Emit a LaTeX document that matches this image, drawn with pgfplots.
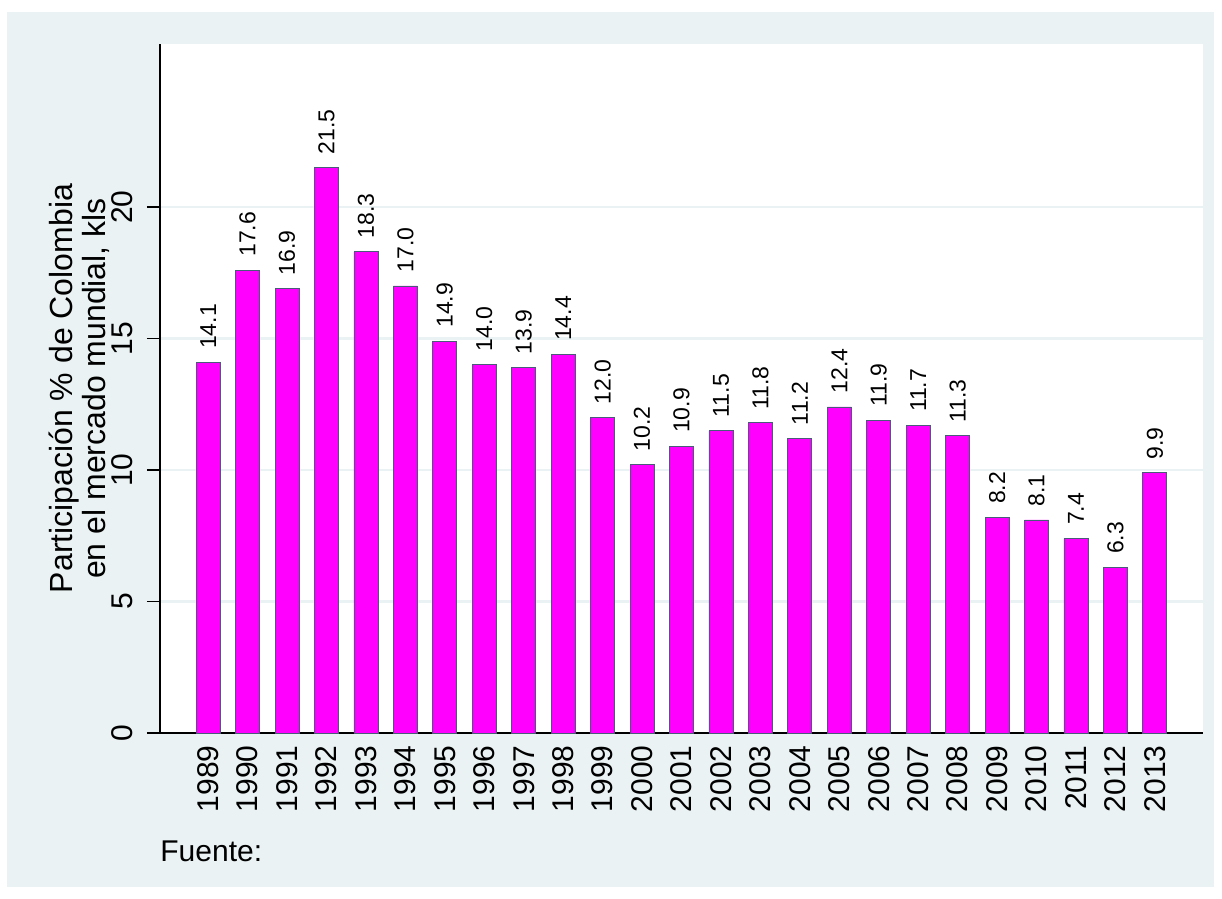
\documentclass[border=0pt]{standalone}
\usepackage{fontspec}
\setmainfont{Liberation Sans}
\usepackage{pgfplots}
\usepackage{pgfplotstable}
\pgfplotsset{compat=1.18}
\definecolor{bg}{HTML}{EAF2F3}
\definecolor{barc}{HTML}{FF00FF}
\definecolor{edgec}{HTML}{4A5A7A}
\pgfplotstableread{
x y
0 14.1
1 17.6
2 16.9
3 21.5
4 18.3
5 17.0
6 14.9
7 14.0
8 13.9
9 14.4
10 12.0
11 10.2
12 10.9
13 11.5
14 11.8
15 11.2
16 12.4
17 11.9
18 11.7
19 11.3
20 8.2
21 8.1
22 7.4
23 6.3
24 9.9
}\datatable
\begin{document}
\begin{tikzpicture}
\fill[white] (-80pt,-83pt) rectangle (531pt,366.5pt);
\fill[bg] (-76.5pt,-77pt) rectangle (527pt,360.5pt);
\begin{axis}[
  scale only axis, width=521.5pt, height=344.5pt,
  at={(0,0)}, anchor=south west,
  xmin=-1.22, xmax=25.22, ymin=0, ymax=26.2,
  axis background/.style={fill=white},
  axis x line*=bottom, axis y line*=left,
  axis line style={-, black, line width=0.8pt},
  /pgf/number format/assume math mode=true,
  xtick=data,
  xticklabels={1989,1990,1991,1992,1993,1994,1995,1996,1997,1998,1999,2000,2001,2002,2003,2004,2005,2006,2007,2008,2009,2010,2011,2012,2013},
  xtick style={draw=none},
  xticklabel style={rotate=90, anchor=east, font=\fontsize{15}{15}\selectfont, inner xsep=-0.5pt, inner ysep=0pt},
  ytick={0,5,10,15,20},
  ytick style={black, line width=0.8pt},
  tick align=outside,
  major tick length=6.5pt,
  yticklabel style={rotate=90, anchor=south, font=\fontsize{15}{15}\selectfont, inner xsep=0pt, inner ysep=7pt},
  ymajorgrids,
  grid style={bg, line width=1.2pt},
  clip=false,
]
\addplot[ybar, bar width=12pt, fill=barc, draw=edgec, line width=0.4pt,
  nodes near coords={\pgfmathprintnumber[fixed, fixed zerofill, precision=1]{\pgfplotspointmeta}},
  every node near coord/.append style={rotate=90, anchor=west, font=\fontsize{11.5}{12}\selectfont, inner xsep=6.5pt, inner ysep=0pt, black},
] table[x=x, y=y] {\datatable};
\end{axis}
\node[rotate=90, anchor=south, align=center, inner sep=0pt, font=\fontsize{16}{16.5}\selectfont] at (-25pt,172.25pt) {Participación \% de Colombia\\en el mercado mundial, kls};
\node[anchor=west, inner sep=0pt, font=\fontsize{15}{15}\selectfont] at (0pt,-59pt) {Fuente:};
\end{tikzpicture}
\end{document}
